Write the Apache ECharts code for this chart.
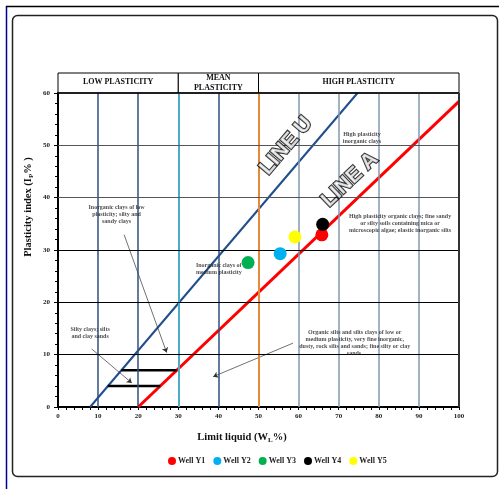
<!DOCTYPE html>
<html><head><meta charset="utf-8">
<script src="https://cdn.jsdelivr.net/npm/echarts@6/dist/echarts.min.js"></script>
<style>html,body{margin:0;padding:0;background:#fff}#c{width:499px;height:489px}</style>
</head><body><div id="c"></div>
<script>
// ---- data ----
var wellNames = ['Well Y1','Well Y2','Well Y3','Well Y4','Well Y5'];
var wellLL = [65.8, 55.4, 47.4, 66.0, 59.1];
var wellPI = [32.9, 29.3, 27.6, 34.9, 32.5];
var wellColors = ['#ff0000','#00b0f0','#00b050','#000000','#ffff00'];
var lineU = [[8,0],[74.7,60]];
var lineA = [[20,0],[100,58.4]];
var barLow = [[12.4,4],[25.5,4]];
var barHigh = [[15.8,7],[29.6,7]];
var zoneNames = ['LOW PLASTICITY','MEAN\nPLASTICITY','HIGH PLASTICITY'];
var zoneBounds = [[0,30],[30,50],[50,100]];
var vLines = [10,20,30,40,50,60,70,80,90];
var vColors = ['#2e4f7f','#2e4f7f','#4bacc6','#2e4f7f','#e5893a','#8497b0','#8497b0','#8497b0','#8497b0'];
var hLines = [10,20,30,40,50];
var hColors = ['#000','#000','#000','#555','#555'];
var notes = [
  {t:'High plasticity\ninorganic clays', p:[75.8,51.4]},
  {t:'High plasticity organic clays; fine sandy\nor silty soils containing mica or\nmicroscopic algae; elastic inorganic silts', p:[85.3,35.0]},
  {t:'Inorganic clays of low\nplasticity; silty and\nsandy clays', p:[14.6,36.7]},
  {t:'Silty clays; silts\nand clay sands', p:[8.0,14.1]},
  {t:'Organic silts and silts clays of low or\nmedium plasticity, very fine inorganic,\ndusty, rock silts and sands; fine silty or clay\nsands.', p:[74.0,12.2]}
];
var noteLeft = {t:'Inorganic clays of\nmedium plasticity', p:[34.4,26.4]};
var arrows = [
  [[16.5,32.9],[27.1,10.4]],
  [[8.4,11.1],[18.4,4.6]],
  [[58.6,12.2],[38.7,5.8]]
];
var bigLabels = [{t:'LINE U', p:[56.9,49.9], r:49.6},{t:'LINE A', p:[72.8,43.4], r:43.6}];

var serif = 'Liberation Serif';
var chart = echarts.init(document.getElementById('c'), null, {renderer:'canvas'});

var series = [];
series.push({
  type:'line', data:[], xAxisIndex:0, yAxisIndex:0, silent:true, z:1,
  markLine:{silent:true, symbol:'none', label:{show:false}, animation:false,
    data: vLines.map(function(v,i){return {xAxis:v, lineStyle:{color:vColors[i], type:'solid', width:(v===30||v===50)?2:1.5}};})
      .concat(hLines.map(function(v,i){return {yAxis:v, lineStyle:{color:hColors[i], type:'solid', width:1.2}};}))
      .concat([{yAxis:60, lineStyle:{color:'#000', type:'solid', width:1.5}},{xAxis:100, lineStyle:{color:'#333', type:'solid', width:2}}])
  }
});
series.push({type:'line', data:lineU, symbol:'none', lineStyle:{color:'#1f4e8c', width:2}, z:3, silent:true});
series.push({type:'line', data:lineA, symbol:'none', lineStyle:{color:'#ff0000', width:3}, z:3, silent:true});
series.push({type:'line', data:barLow, symbol:'none', lineStyle:{color:'#000', width:2.5}, z:4, silent:true});
series.push({type:'line', data:barHigh, symbol:'none', lineStyle:{color:'#000', width:2.5}, z:4, silent:true});
series.push({type:'lines', coordinateSystem:'cartesian2d', z:4, silent:true,
  symbol:['none','arrow'], symbolSize:5,
  lineStyle:{color:'#333', width:0.7, opacity:1},
  data: arrows.map(function(a){return {coords:a};})
});
wellNames.forEach(function(n,i){
  series.push({type:'scatter', name:n, data:[[wellLL[i],wellPI[i]]], symbolSize:13, itemStyle:{color:wellColors[i], opacity:1}, z:6});
});
series.push({type:'scatter', symbolSize:0, silent:true, z:5,
  data: notes.map(function(n){return {value:n.p, label:{show:true, position:'inside', formatter:n.t, align:'center', verticalAlign:'middle'}};})
    .concat([{value:noteLeft.p, label:{show:true, position:'right', distance:0, formatter:noteLeft.t, align:'left'}}]),
  label:{fontFamily:serif, fontWeight:'bold', fontSize:6, color:'#222', lineHeight:7}
});
series.push({type:'scatter', symbolSize:0, silent:true, z:7,
  data: bigLabels.map(function(b){return {value:b.p, label:{show:true, position:'inside', formatter:b.t, rotate:b.r}};}),
  label:{fontFamily:'Liberation Sans', fontWeight:'bold', fontSize:21, color:'#fff', textBorderColor:'#000', textBorderWidth:2.2}
});
series.push({type:'scatter', xAxisIndex:1, yAxisIndex:1, data:[[0,0]], symbolSize:0, silent:true,
  markArea:{silent:true,
    itemStyle:{color:'#fff', borderColor:'#000', borderWidth:1},
    data: zoneNames.map(function(n,i){return [{xAxis:zoneBounds[i][0], yAxis:0, label:{show:true, position:i===1?'inside':'insideTop', distance:4, formatter:n, fontFamily:serif, fontWeight:'bold', fontSize:8, color:'#111', lineHeight:10}},{xAxis:zoneBounds[i][1], yAxis:1}];})
  }
});

var option = {
  animation:false,
  backgroundColor:'#fff',
  grid:[{left:58,right:40,top:93,bottom:82},{left:58,right:40,top:73,height:20}],
  xAxis:[{type:'value', min:0, max:100, interval:10,
    axisLine:{show:true, onZero:false, lineStyle:{color:'#000', width:2}},
    axisTick:{show:true, length:3, lineStyle:{color:'#000'}},
    minorTick:{show:true, splitNumber:5, length:3, lineStyle:{color:'#000'}},
    splitLine:{show:false},
    axisLabel:{fontFamily:serif, fontWeight:'bold', fontSize:7, color:'#222', margin:6}
  },{gridIndex:1, type:'value', min:0, max:100, show:false}],
  yAxis:[{type:'value', min:0, max:60, interval:10,
    axisLine:{show:true, onZero:false, lineStyle:{color:'#000', width:2}},
    axisTick:{show:true, length:4, lineStyle:{color:'#000'}},
    minorTick:{show:true, splitNumber:5, length:3, lineStyle:{color:'#000'}},
    splitLine:{show:false},
    axisLabel:{fontFamily:serif, fontWeight:'bold', fontSize:7, color:'#222', margin:8}
  },{gridIndex:1, type:'value', min:0, max:1, show:false}],
  legend:{data:wellNames, left:163, top:452, icon:'circle', itemWidth:8, itemHeight:8, itemGap:8,
    textStyle:{fontFamily:serif, fontWeight:'bold', fontSize:8, color:'#222', padding:[0,0,0,-3]}},
  graphic:[
    {type:'line', shape:{x1:6.5,y1:6,x2:6.5,y2:489}, style:{stroke:'#00008b', lineWidth:1.5}, z:-1},
    {type:'line', shape:{x1:6,y1:6.5,x2:499,y2:6.5}, style:{stroke:'#000', lineWidth:1.5}, z:-1},
    {type:'rect', shape:{x:12.5,y:15.5,width:485,height:461,r:5}, style:{fill:'none', stroke:'#222', lineWidth:1.5}, z:-1},
    {type:'text', x:28, y:207, rotation:Math.PI/2, style:{text:'Plasticity index (I{s|P}% )', rich:{s:{fontSize:7, fontFamily:serif, fontWeight:'bold', padding:[6,0,0,0]}}, fontFamily:serif, fontWeight:'bold', fontSize:10.5, fill:'#111', align:'center', verticalAlign:'middle'}},
    {type:'text', x:242, y:437, style:{text:'Limit liquid (W{s|L}%)', rich:{s:{fontSize:7, fontFamily:serif, fontWeight:'bold', padding:[6,0,0,0]}}, fontFamily:serif, fontWeight:'bold', fontSize:10.5, fill:'#111', align:'center', verticalAlign:'middle'}}
  ],
  series:series
};
chart.setOption(option);
</script></body></html>
